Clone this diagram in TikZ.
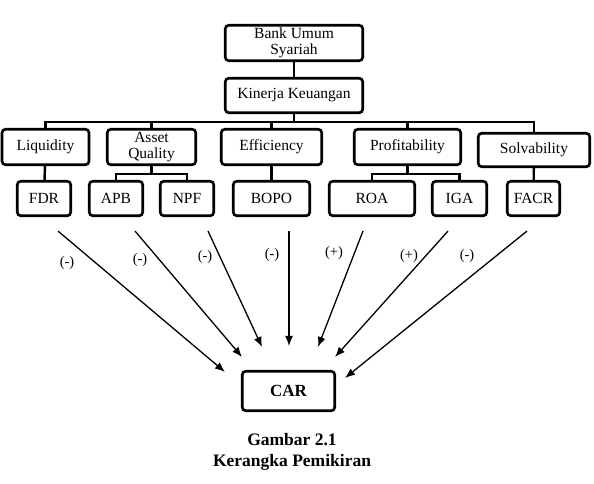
\documentclass[tikz,border=0pt]{standalone}
\usepackage{fontspec}
\setmainfont{Liberation Serif}
\usepackage{tikz}
\usetikzlibrary{arrows.meta}
\tikzset{>/.tip={Latex[length=10pt,width=8pt]},
  kotak/.style={draw, line width=2.6pt, rounded corners=3.5pt, inner sep=0pt,
    align=center, font=\fontsize{15.5}{16}\selectfont},
  cabang/.style={line width=2.4pt},
  panah/.style={->, line width=1.3pt},
  tanda/.style={font=\fontsize{14.5}{15}\selectfont}}
\newcommand{\jdl}[1]{\textbf{#1}}

\begin{document}
\begin{tikzpicture}[x=1pt, y=-1pt]
\useasboundingbox (0,0) rectangle (594,483);
\node[kotak, minimum width=137.5pt, minimum height=35.5pt] (bank) at (294,43) {Bank Umum\\Syariah};
\node[kotak, minimum width=137.5pt, minimum height=34.5pt] (kin) at (294,95.5) {Kinerja Keuangan};

\node[kotak, minimum width=87pt, minimum height=35.5pt] (liq) at (45.5,147) {Liquidity};
\node[kotak, minimum width=88.5pt, minimum height=35.5pt] (aq) at (151.5,147) {Asset\\Quality};
\node[kotak, minimum width=100.5pt, minimum height=35.5pt] (eff) at (271.5,147) {Efficiency};
\node[kotak, minimum width=106.5pt, minimum height=35.5pt] (prof) at (407.5,147) {Profitability};
\node[kotak, minimum width=111.5pt, minimum height=33.5pt] (solv) at (534,150) {Solvability};

\node[kotak, minimum width=53.5pt, minimum height=34.5pt] (fdr) at (44,198.5) {FDR};
\node[kotak, minimum width=53.5pt, minimum height=34.5pt] (apb) at (116,198.5) {APB};
\node[kotak, minimum width=53.5pt, minimum height=34.5pt] (npf) at (187,198.5) {NPF};
\node[kotak, minimum width=76.5pt, minimum height=34.5pt] (bopo) at (271.5,198.5) {BOPO};
\node[kotak, minimum width=85.5pt, minimum height=34.5pt] (roa) at (372,198.5) {ROA};
\node[kotak, minimum width=54.5pt, minimum height=34.5pt] (iga) at (459.5,198.5) {IGA};
\node[kotak, minimum width=52.5pt, minimum height=34.5pt] (facr) at (533.5,198.5) {FACR};

\node[kotak, minimum width=92.5pt, minimum height=39.5pt, font=\fontsize{17}{18}\selectfont\bfseries] (car) at (288.5,391) {CAR};

% tree
\draw[cabang] (bank) -- (kin);
\coordinate (bus) at (294,122);
\draw[cabang] (kin) -- (bus);
\draw[cabang] (bus) -| (liq.north);
\draw[cabang] (bus) -| (aq.north);
\draw[cabang] (bus) -| (eff.north);
\draw[cabang] (bus) -| (prof.north);
\draw[cabang] (bus) -| (solv.north);
\draw[cabang] (liq) -- (fdr);
\coordinate (aqb) at (151.5,174);
\draw[cabang] (aq) -- (aqb);
\draw[cabang] (aqb) -| (apb.north);
\draw[cabang] (aqb) -| (npf.north);
\draw[cabang] (eff.south) -- (eff.south |- bopo.north);
\coordinate (prb) at (407.5,174);
\draw[cabang] (prof) -- (prb);
\draw[cabang] (prb) -| (roa.north);
\draw[cabang] (prb) -| (iga.north);
\draw[cabang] (solv) -- (facr);

% arrows to CAR
\draw[panah] ([xshift=14pt,yshift=-14pt]fdr.south) -- ([xshift=-16pt,yshift=-2pt]car.north west);
\draw[panah] ([xshift=19pt,yshift=-14pt]apb.south) -- ([xshift=1pt,yshift=13pt]car.north west);
\draw[panah] ([xshift=21pt,yshift=-14pt]npf.south) -- ([xshift=-26.5pt,yshift=23pt]car.north);
\draw[panah] ([xshift=17.5pt,yshift=-14pt]bopo.south) -- ([xshift=0.5pt,yshift=24pt]car.north);
\draw[panah] ([xshift=-9pt,yshift=-14pt]roa.south) -- ([xshift=29.5pt,yshift=23pt]car.north);
\draw[panah] ([xshift=-11.5pt,yshift=-14pt]iga.south) -- ([xshift=-1pt,yshift=13pt]car.north east);
\draw[panah] ([xshift=-6.5pt,yshift=-14pt]facr.south) -- ([xshift=9pt,yshift=-8pt]car.north east);

\node[tanda] (s1) at (67,263) {(-)};
\node[tanda] (s2) at (140,260) {(-)};
\node[tanda] (s3) at (205,257) {(-)};
\node[tanda] (s4) at (272,255) {(-)};
\node[tanda] (s5) at (334,253) {(+)};
\node[tanda] (s6) at (409,256) {(+)};
\node[tanda] (s7) at (467,256) {(-)};

\node[font=\fontsize{17.5}{18}\selectfont] (gbr) at (292,440) {\jdl{Gambar 2.1}};
\node[font=\fontsize{17.5}{18}\selectfont] (jdl) at (292,462) {\jdl{Kerangka Pemikiran}};
\end{tikzpicture}
\end{document}
